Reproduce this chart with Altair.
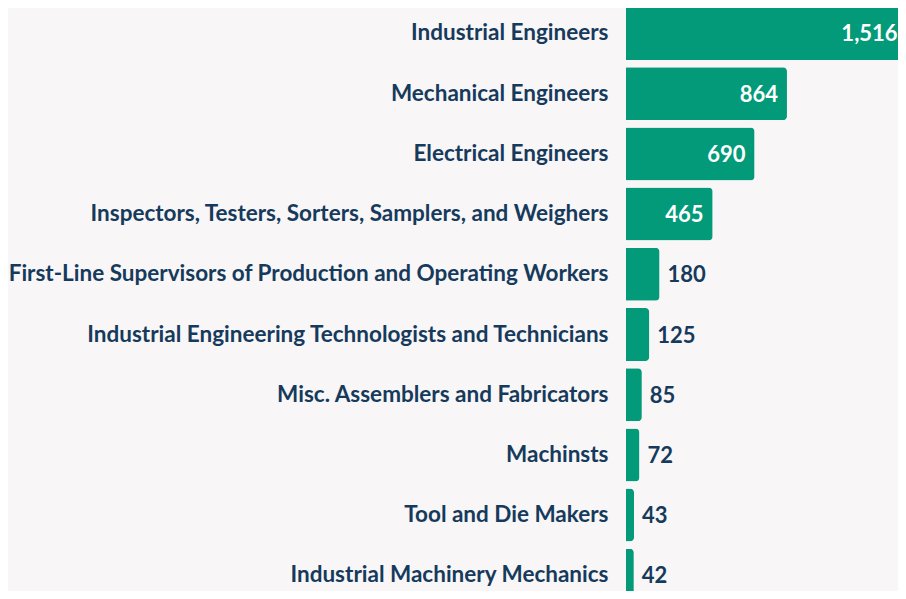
import altair as alt
import pandas as pd

categories = [
    "Industrial Engineers",
    "Mechanical Engineers",
    "Electrical Engineers",
    "Inspectors, Testers, Sorters, Samplers, and Weighers",
    "First-Line Supervisors of Production and Operating Workers",
    "Industrial Engineering Technologists and Technicians",
    "Misc. Assemblers and Fabricators",
    "Machinsts",
    "Tool and Die Makers",
    "Industrial Machinery Mechanics",
]
values = [1516, 864, 690, 465, 180, 125, 85, 72, 43, 42]

df = pd.DataFrame({"occupation": categories, "value": values})
df["inside"] = df["value"] >= 400

BAR = "#029a78"
NAVY = "#163a5c"
BG = "#f8f6f7"
FONT = "Lato"
XMAX = 1460

y_enc = alt.Y(
    "occupation:N",
    sort=categories,
    scale=alt.Scale(range=[-1, 593.8], paddingInner=0.12, paddingOuter=0.0),
    axis=alt.Axis(
        title=None, domain=False, ticks=False, labelPadding=18,
        labelFont=FONT, labelFontSize=22.5, labelFontWeight="bold",
        labelColor=NAVY, labelLimit=700,
    ),
)
x_scale = alt.Scale(domain=[0, XMAX], nice=False, zero=True)

base = alt.Chart(df)

bars = base.mark_bar(color=BAR, cornerRadiusEnd=4).encode(
    y=y_enc, x=alt.X("value:Q", scale=x_scale, axis=None)
)

# keep the inside label of a bar that runs past the view visible
inside = base.transform_filter("datum.inside").transform_calculate(
    lx="min(datum.value, 1506)"
).mark_text(
    align="right", baseline="middle", dx=-9, dy=1,
    font=FONT, fontSize=22, fontWeight="bold", color="white",
).encode(
    y=y_enc, x=alt.X("lx:Q", scale=x_scale, axis=None),
    text=alt.Text("value:Q", format=","),
)

outside = base.transform_filter("!datum.inside").mark_text(
    align="left", baseline="middle", dx=8, dy=1,
    font=FONT, fontSize=22, fontWeight="bold", color=NAVY,
).encode(
    y=y_enc, x=alt.X("value:Q", scale=x_scale, axis=None),
    text=alt.Text("value:Q", format=","),
)

chart = (
    alt.layer(bars, inside, outside)
    .properties(
        width=272,
        height=583,
        autosize=alt.AutoSizeParams(type="none"),
        padding={"left": 618, "top": 0, "right": 0, "bottom": 0},
        background=BG,
    )
    .configure_view(stroke=None)
)

chart.save("out.html", embed_options={"renderer": "svg", "actions": False})
